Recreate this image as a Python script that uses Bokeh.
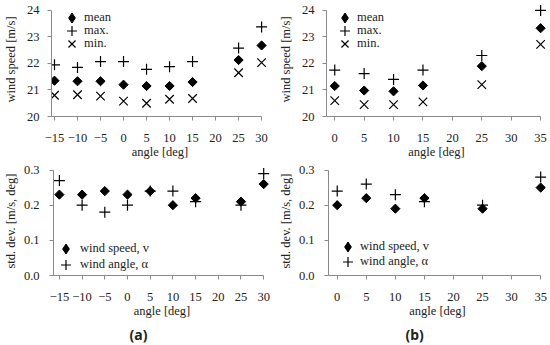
from bokeh.plotting import figure
from bokeh.layouts import row, column
from bokeh.models import Legend, LegendItem, FixedTicker, Range1d, Title, NumeralTickFormatter
from bokeh.embed import file_html
from bokeh.resources import INLINE
import math

# ---- data ----
angles_a = [-15, -10, -5, 0, 5, 10, 15, 25, 30]
mean_a = [21.35, 21.33, 21.33, 21.20, 21.15, 21.15, 21.30, 22.13, 22.68]
max_a = [21.95, 21.85, 22.07, 22.07, 21.78, 21.88, 22.07, 22.58, 23.38]
min_a = [20.80, 20.82, 20.77, 20.58, 20.50, 20.65, 20.68, 21.65, 22.03]
std_speed_a = [0.23, 0.23, 0.24, 0.23, 0.24, 0.20, 0.22, 0.21, 0.26]
std_angle_a = [0.27, 0.20, 0.18, 0.20, 0.24, 0.24, 0.21, 0.20, 0.29]

angles_b = [0, 5, 10, 15, 25, 35]
mean_b = [21.15, 20.98, 20.95, 21.17, 21.90, 23.33]
max_b = [21.75, 21.62, 21.40, 21.75, 22.30, 24.00]
min_b = [20.60, 20.45, 20.45, 20.55, 21.20, 22.72]
std_speed_b = [0.20, 0.22, 0.19, 0.22, 0.19, 0.25]
std_angle_b = [0.24, 0.26, 0.23, 0.21, 0.20, 0.28]

xticks_a = [-15, -10, -5, 0, 5, 10, 15, 20, 25, 30]
xticks_b = [0, 5, 10, 15, 20, 25, 30, 35]
yticks_speed = [20, 21, 22, 23, 24]
yticks_std = [0.0, 0.1, 0.2, 0.3]

SERIF = "Liberation Serif"
FS = "12.5px"
TXT = "#222222"
AX = "#8a8a8a"
GL = 25  # legend glyph box (marker size = 0.4 * box)


def make_fig(w, h, xr, yr, mbl, mbr, mbt, mbb):
    p = figure(width=w, height=h, x_range=Range1d(*xr), y_range=Range1d(*yr),
               output_backend="svg", toolbar_location=None,
               min_border_left=mbl, min_border_right=mbr,
               min_border_top=mbt, min_border_bottom=mbb)
    p.outline_line_color = None
    p.xgrid.visible = False
    p.ygrid.visible = False
    return p


def style(p, xticks, yticks, ylabel, ystand, ylabstand, xb, yb, yfmt=None):
    p.xaxis.ticker = FixedTicker(ticks=xticks)
    p.yaxis.ticker = FixedTicker(ticks=yticks)
    p.xaxis.bounds = xb
    p.yaxis.bounds = yb
    if yfmt:
        p.yaxis.formatter = NumeralTickFormatter(format=yfmt)
    p.xaxis.axis_label = "angle [deg]"
    p.yaxis.axis_label = ylabel
    for ax in (p.xaxis[0], p.yaxis[0]):
        ax.axis_line_color = AX
        ax.major_tick_line_color = AX
        ax.minor_tick_line_color = None
        ax.major_tick_out = 4
        ax.major_tick_in = 0
        ax.major_label_text_font = SERIF
        ax.major_label_text_font_size = FS
        ax.major_label_text_color = TXT
        ax.axis_label_text_font = SERIF
        ax.axis_label_text_font_size = FS
        ax.axis_label_text_font_style = "normal"
        ax.axis_label_text_color = TXT
    p.xaxis.major_label_standoff = 13
    p.xaxis.axis_label_standoff = 0
    p.yaxis.major_label_standoff = ystand
    p.yaxis.axis_label_standoff = ylabstand


def add_legend_rows(p, entries, x, ys, standoff):
    # one single-row legend per entry, so the row pitch can be set freely
    for (label, rend), y in zip(entries, ys):
        leg = Legend(items=[LegendItem(label=label, renderers=[rend])],
                     location=(x, y), border_line_color=None,
                     background_fill_alpha=0, padding=0, margin=0, spacing=0,
                     glyph_width=GL, glyph_height=GL, label_height=12,
                     label_standoff=standoff, label_text_font=SERIF,
                     label_text_font_size=FS, label_text_color=TXT)
        p.add_layout(leg)


def diamonds(p, ang, vals):
    p.scatter(ang, vals, marker="square", angle=math.pi / 4, size=6.5,
              color="black")
    # zero-size twin so the legend shows an upright diamond
    return p.scatter(ang, vals, marker="diamond", size=0, color="black")


def speed_panel(p, ang, mean, mx, mn, x, ys, standoff):
    r1 = diamonds(p, ang, mean)
    r2 = p.scatter(ang, mx, marker="cross", size=11, line_color="black",
                   line_width=1.2)
    r3 = p.scatter(ang, mn, marker="x", size=12, line_color="black",
                   line_width=1.2)
    add_legend_rows(p, [("mean", r1), ("max.", r2), ("min.", r3)], x, ys, standoff)


def std_panel(p, ang, sp, an, x, ys, standoff):
    r1 = diamonds(p, ang, sp)
    r2 = p.scatter(ang, an, marker="cross", size=11, line_color="black",
                   line_width=1.2)
    add_legend_rows(p, [("wind speed, v", r1), ("wind angle, α", r2)], x, ys, standoff)


# top-left
p1 = make_fig(275, 162, (-15.65, 31.5), (20, 24.3), 49, 7, 2, 46)
style(p1, xticks_a, yticks_speed, "wind speed [m/s]", 8, 6, (-15.65, 30), (20, 24))
speed_panel(p1, angles_a, mean_a, max_a, min_a, 8, (86, 73, 60), 0)

# top-right
p2 = make_fig(275, 162, (-1.4, 36), (20, 24.3), 51, 4, 2, 46)
style(p2, xticks_b, yticks_speed, "wind speed [m/s]", 8, 6, (-1.4, 35), (20, 24))
speed_panel(p2, angles_b, mean_b, max_b, min_b, 6, (86, 73, 60), 0)

# bottom-left
p3 = make_fig(275, 183, (-16.3, 31.5), (0, 0.31), 50, 5, 4, 68)
style(p3, xticks_a, yticks_std, "std. dev. [m/s, deg]", 10, 3, (-16.3, 30), (0, 0.3), "0.0")
std_panel(p3, angles_a, std_speed_a, std_angle_a, 0, (14, -2), 2)
p3.add_layout(Title(text="(a)", align="left", offset=76, text_font="Noto Sans",
                    text_font_style="bold", text_font_size="14px",
                    text_color=TXT, standoff=4), "below")

# bottom-right
p4 = make_fig(275, 183, (-1.5, 36), (0, 0.31), 50, 4, 4, 68)
style(p4, xticks_b, yticks_std, "std. dev. [m/s, deg]", 10, 3, (-1.5, 35), (0, 0.3), "0.0")
std_panel(p4, angles_b, std_speed_b, std_angle_b, 7, (16, 1), 0)
p4.add_layout(Title(text="(b)", align="left", offset=77, text_font="Noto Sans",
                    text_font_style="bold", text_font_size="14px",
                    text_color=TXT, standoff=4), "below")

layout = column(row(p1, p2), row(p3, p4))
open("out.html", "w").write(file_html(layout, INLINE))
